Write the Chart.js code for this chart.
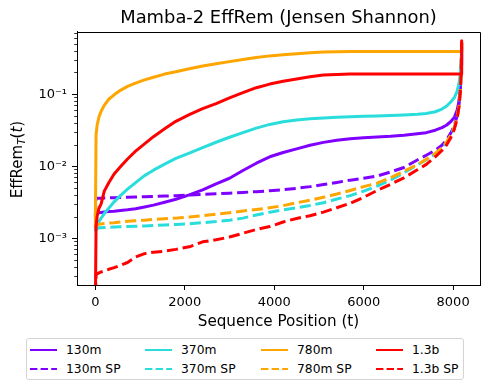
<!DOCTYPE html>
<html><head><meta charset="utf-8">
<script src="https://cdn.jsdelivr.net/npm/chart.js@4"></script>
<style>
html,body{margin:0;padding:0;background:#fff;}
#wrap{position:relative;width:489px;height:390px;font-family:"DejaVu Sans",sans-serif;}
#legend{position:absolute;left:26px;top:338px;width:438px;height:42px;border:1px solid #d4d4d4;border-radius:3px;box-sizing:border-box;background:#fff;}
.item{position:absolute;display:flex;align-items:center;height:16px;font-size:12.3px;color:#000;white-space:nowrap;}
.item svg{margin-right:9px;display:block;}
</style></head><body>
<div id="wrap"><canvas id="c" width="489" height="390"></canvas><div id="legend"></div></div>
<script>
// Sequence positions (t)
const positions = [0, 16, 40, 80, 130, 200, 300, 420, 560, 720, 900, 1100, 1300, 1550, 1800, 2100, 2400, 2700, 3000, 3300, 3600, 3900, 4200, 4500, 4800, 5100, 5400, 5700, 6000, 6300, 6600, 6900, 7200, 7400, 7600, 7750, 7850, 7950, 8030, 8090, 8130, 8160, 8180, 8191];

const m130   = [0.0022, 0.0022, 0.00223, 0.00226, 0.00228, 0.00231, 0.00234, 0.00237, 0.00243, 0.00248, 0.00257, 0.00272, 0.00288, 0.00316, 0.00347, 0.0040, 0.0047, 0.0057, 0.0068, 0.0087, 0.011, 0.0135, 0.0155, 0.0174, 0.0195, 0.0214, 0.0229, 0.024, 0.0248, 0.0254, 0.026, 0.0269, 0.0282, 0.0292, 0.0316, 0.0343, 0.037, 0.0417, 0.048, 0.06, 0.079, 0.126, 0.25, 0.45];
const m130sp = [0.0020, 0.0035, 0.0036, 0.0036, 0.0036, 0.00361, 0.00363, 0.00365, 0.00367, 0.0037, 0.00373, 0.00377, 0.0038, 0.00385, 0.0039, 0.00397, 0.00405, 0.00413, 0.00422, 0.00432, 0.00443, 0.00455, 0.00472, 0.00492, 0.0052, 0.00555, 0.00595, 0.0064, 0.0068, 0.0073, 0.0083, 0.0096, 0.0122, 0.0142, 0.0166, 0.0195, 0.023, 0.029, 0.037, 0.05, 0.07, 0.11, 0.2, 0.5];
const m370   = [0.0013, 0.0013, 0.0015, 0.0017, 0.0019, 0.0022, 0.0026, 0.0032, 0.0039, 0.0048, 0.0059, 0.0074, 0.0088, 0.0107, 0.0128, 0.0152, 0.0181, 0.0215, 0.0252, 0.0292, 0.0338, 0.038, 0.0415, 0.0438, 0.0455, 0.0468, 0.0478, 0.0486, 0.0492, 0.0498, 0.0505, 0.0515, 0.0527, 0.054, 0.057, 0.062, 0.068, 0.078, 0.09, 0.11, 0.14, 0.19, 0.3, 0.45];
const m370sp = [0.0013, 0.0013, 0.00135, 0.0014, 0.0014, 0.00141, 0.00142, 0.00143, 0.00144, 0.00145, 0.00146, 0.00148, 0.0015, 0.00152, 0.00155, 0.00159, 0.00164, 0.0017, 0.00178, 0.0019, 0.0021, 0.0023, 0.00248, 0.00265, 0.00285, 0.0031, 0.0035, 0.0039, 0.0045, 0.0053, 0.0064, 0.0081, 0.0104, 0.0123, 0.0148, 0.0178, 0.021, 0.027, 0.035, 0.048, 0.068, 0.105, 0.2, 0.5];
const m780   = [0.0014, 0.027, 0.037, 0.048, 0.058, 0.07, 0.085, 0.098, 0.113, 0.128, 0.142, 0.158, 0.172, 0.19, 0.205, 0.225, 0.246, 0.265, 0.283, 0.302, 0.322, 0.34, 0.352, 0.364, 0.376, 0.385, 0.389, 0.39, 0.39, 0.39, 0.39, 0.39, 0.39, 0.39, 0.39, 0.39, 0.39, 0.39, 0.39, 0.39, 0.39, 0.39, 0.39, 0.52];
const m780sp = [0.0014, 0.0015, 0.00153, 0.00156, 0.00158, 0.0016, 0.00162, 0.00164, 0.00168, 0.00172, 0.00175, 0.00178, 0.00182, 0.00186, 0.0019, 0.00197, 0.00206, 0.00216, 0.00226, 0.00238, 0.0025, 0.00265, 0.00283, 0.0031, 0.00337, 0.0037, 0.0041, 0.0046, 0.0052, 0.0058, 0.0069, 0.0085, 0.0105, 0.0125, 0.015, 0.018, 0.0215, 0.027, 0.035, 0.048, 0.068, 0.105, 0.2, 0.5];
const m13b   = [0.0001, 0.00145, 0.002, 0.0026, 0.003, 0.0045, 0.0059, 0.0078, 0.0098, 0.0126, 0.0162, 0.0204, 0.0257, 0.033, 0.042, 0.052, 0.063, 0.074, 0.089, 0.105, 0.123, 0.138, 0.151, 0.162, 0.174, 0.184, 0.188, 0.19, 0.19, 0.19, 0.19, 0.19, 0.19, 0.19, 0.19, 0.19, 0.19, 0.19, 0.19, 0.19, 0.19, 0.19, 0.19, 0.55];
const m13bsp = [0.0001, 0.00031, 0.00032, 0.00033, 0.00034, 0.00035, 0.00037, 0.00039, 0.00042, 0.00046, 0.00055, 0.00061, 0.00064, 0.00066, 0.0007, 0.00076, 0.00089, 0.00095, 0.00104, 0.00117, 0.00132, 0.00145, 0.00168, 0.00188, 0.00205, 0.0023, 0.00265, 0.00306, 0.0037, 0.0046, 0.0056, 0.0069, 0.0089, 0.0106, 0.0135, 0.0165, 0.0195, 0.025, 0.033, 0.046, 0.066, 0.105, 0.2, 0.52];

const seriesNames = ['130m', '130m SP', '370m', '370m SP', '780m', '780m SP', '1.3b', '1.3b SP'];
const seriesValues = [m130, m130sp, m370, m370sp, m780, m780sp, m13b, m13bsp];
const seriesColors = ['#8000ff', '#8000ff', '#2adddd', '#2adddd', '#ffa500', '#ffa500', '#ff0000', '#ff0000'];
const seriesDashed = [false, true, false, true, false, true, false, true];

const xTickValues = [0, 2000, 4000, 6000, 8000];
const yTickValues = [1e-3, 1e-2, 1e-1];
const yTickLabels = ['10\u207B\u00B3', '10\u207B\u00B2', '10\u207B\u00B9'];

const FONT = 'DejaVu Sans';

const datasets = seriesNames.map((name, i) => ({
  label: name,
  data: positions.map((t, j) => ({x: t, y: seriesValues[i][j]})),
  borderColor: seriesColors[i],
  backgroundColor: seriesColors[i],
  borderWidth: 3,
  borderDash: seriesDashed[i] ? [11.1, 4.8] : [],
  borderCapStyle: seriesDashed[i] ? 'butt' : 'round',
  borderJoinStyle: 'round',
  pointRadius: 0,
  tension: 0,
  fill: false,
  clip: 0,
  order: seriesNames.length - 1 - i
}));

const extras = {
  id: 'extras',
  afterDraw(chart) {
    const ctx = chart.ctx;
    const a = chart.chartArea;
    const ys = chart.scales.y;
    ctx.save();
    // frame top & right
    ctx.strokeStyle = '#000';
    ctx.lineWidth = 1;
    ctx.beginPath();
    ctx.moveTo(Math.round(a.left), Math.round(a.top) + 0.5);
    ctx.lineTo(Math.round(a.right) + 0.5, Math.round(a.top) + 0.5);
    ctx.lineTo(Math.round(a.right) + 0.5, Math.round(a.bottom));
    ctx.stroke();
    // minor ticks on log axis
    ctx.lineWidth = 0.8;
    for (let k = -5; k <= 0; k++) {
      for (let m = 2; m <= 9; m++) {
        const v = m * Math.pow(10, k);
        if (v < ys.min || v > ys.max) continue;
        const y = Math.round(ys.getPixelForValue(v)) + 0.5;
        ctx.beginPath();
        ctx.moveTo(a.left - 2.8, y);
        ctx.lineTo(a.left, y);
        ctx.stroke();
      }
    }
    // y axis label: EffRem_T(t)
    const main = '15px "' + FONT + '"';
    const mainIt = 'italic 15px "' + FONT + '"';
    const sub = 'italic 10.5px "' + FONT + '"';
    const parts = [
      {t: 'EffRem', f: main, dy: 0},
      {t: 'T', f: sub, dy: 3},
      {t: '(', f: main, dy: 0},
      {t: 't', f: mainIt, dy: 0},
      {t: ')', f: main, dy: 0}
    ];
    let total = 0;
    parts.forEach(p => { ctx.font = p.f; p.w = ctx.measureText(p.t).width; total += p.w; });
    ctx.translate(22, (a.top + a.bottom) / 2 + 1);
    ctx.rotate(-Math.PI / 2);
    ctx.fillStyle = '#000';
    ctx.textBaseline = 'alphabetic';
    ctx.textAlign = 'left';
    let x = -total / 2;
    parts.forEach(p => { ctx.font = p.f; ctx.fillText(p.t, x, p.dy); x += p.w; });
    ctx.restore();
  }
};

new Chart(document.getElementById('c'), {
  type: 'line',
  data: {datasets},
  options: {
    responsive: false,
    animation: false,
    events: [],
    layout: {padding: {left: 0, right: 9, top: 0, bottom: 0}},
    plugins: {
      legend: {display: false},
      tooltip: {enabled: false},
      title: {
        display: true, text: 'Mamba-2 EffRem (Jensen Shannon)', fullSize: false,
        color: '#000', font: {family: FONT, size: 17.9, weight: 'normal'},
        padding: {top: 7.3, bottom: 3.2}
      }
    },
    scales: {
      x: {
        type: 'linear', min: -410, max: 8601,
        afterBuildTicks: s => { s.ticks = xTickValues.map(v => ({value: v})); },
        afterFit: s => { s.height = 105; },
        ticks: {callback: v => String(v), color: '#000', font: {family: FONT, size: 13}, padding: 5, maxRotation: 0, autoSkip: false},
        grid: {drawOnChartArea: false, drawTicks: true, tickLength: 5, tickColor: '#000', tickWidth: 1},
        border: {display: true, color: '#000', width: 1},
        title: {display: true, text: 'Sequence Position (t)', color: '#000', font: {family: FONT, size: 15.2}, padding: {top: 0, bottom: 59}}
      },
      y: {
        type: 'logarithmic', min: 2.24e-4, max: 0.73,
        afterBuildTicks: s => { s.ticks = yTickValues.map(v => ({value: v})); },
        afterFit: s => { s.width = 77; },
        ticks: {
          callback: (v) => { const i = yTickValues.findIndex(t => Math.abs(t - v) / t < 1e-6); return i >= 0 ? yTickLabels[i] : ''; },
          color: '#000', font: {family: FONT, size: 13}, padding: 5, autoSkip: false
        },
        grid: {drawOnChartArea: false, drawTicks: true, tickLength: 5, tickColor: '#000', tickWidth: 1},
        border: {display: true, color: '#000', width: 1}
      }
    }
  },
  plugins: [extras]
});

// Legend (matplotlib-style, 4 columns, filled column-wise)
const legend = document.getElementById('legend');
const colLeft = [3, 118, 234, 349];
const rowTop = [3, 22];
seriesNames.forEach((name, i) => {
  const col = Math.floor(i / 2), row = i % 2;
  const d = document.createElement('div');
  d.className = 'item';
  d.style.left = colLeft[col] + 'px';
  d.style.top = rowTop[row] + 'px';
  const dash = seriesDashed[i] ? ' stroke-dasharray="7.4,3.2"' : '';
  d.innerHTML = '<svg width="27" height="4"><line x1="0" y1="2" x2="27" y2="2" stroke="' + seriesColors[i] + '" stroke-width="2"' + dash + '/></svg><span>' + name + '</span>';
  legend.appendChild(d);
});
</script>
</body></html>
